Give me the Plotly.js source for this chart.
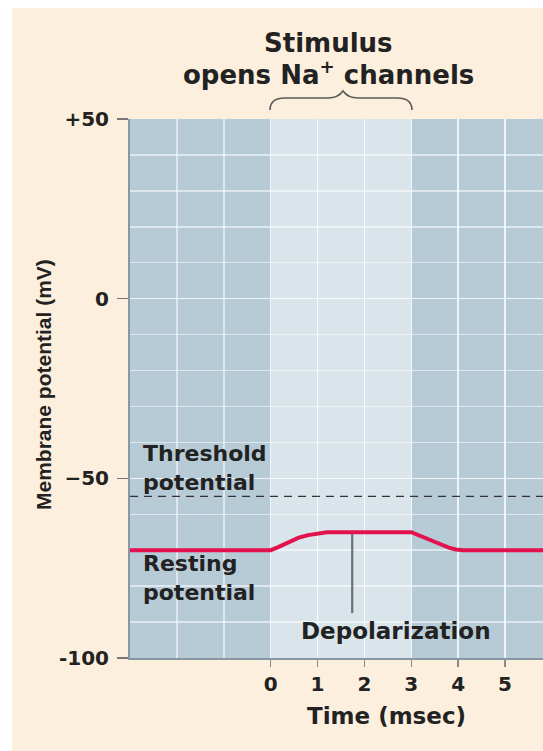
<!DOCTYPE html>
<html>
<head>
<meta charset="utf-8">
<script src="https://cdn.plot.ly/plotly-3.0.1.min.js"></script>
<style>
  html, body { margin: 0; padding: 0; background: #ffffff; overflow: hidden; }
  #chart { position: absolute; left: 12px; top: 8px; width: 531px; height: 743px; }
</style>
</head>
<body>
<div id="chart"></div>
<script>
// ---- data ----
const timeMs = [-3, 0, 0.15, 0.3, 0.45, 0.6, 0.8, 1.0, 1.2, 3.0, 3.3, 3.6, 3.8, 3.95, 4.1, 6.5];
const potentialMV = [-70, -70, -69.2, -68.2, -67.3, -66.5, -65.8, -65.3, -65, -65, -66.5, -68.2, -69.3, -69.8, -70, -70];
const xTickVals = [0, 1, 2, 3, 4, 5];
const xTickText = ['0', '1', '2', '3', '4', '5'];
const yTickVals = [-100, -50, 0, 50];
const yTickText = ['-100', '\u221250', '0', '+50'];
const stimulusStart = 0;
const stimulusEnd = 3;
const thresholdMV = -55;
const depolPointerX = 1.74;
const depolPointerTop = -65.5;
const depolPointerBottom = -87.5;

// ---- layout helpers (page pixels -> paper fraction) ----
const W = 531, H = 743;
const M = {l: 118, r: 0, t: 111, b: 93};
function px(xPage) { return (xPage - 12 - M.l) / (W - M.l - M.r); }
function py(yPage) { return (H - M.b - (yPage - 8)) / (H - M.t - M.b); }

const FONT = 'DejaVu Sans, Liberation Sans, Arial, sans-serif';
const TXT = '#222222';

const trace = {
  x: timeMs, y: potentialMV, type: 'scatter', mode: 'lines',
  line: {color: '#e3124c', width: 4},
  hoverinfo: 'skip', showlegend: false
};

const braceX0 = px(270), braceX1 = px(412), braceTip = px(343);
const bY0 = py(110), bY1 = py(98), bTip = py(91);
const bracePath = `M ${braceX0},${bY0} Q ${braceX0},${bY1} ${px(285)},${bY1} L ${px(328)},${bY1} Q ${px(338)},${bY1} ${braceTip},${bTip} Q ${px(348)},${bY1} ${px(358)},${bY1} L ${px(397)},${bY1} Q ${braceX1},${bY1} ${braceX1},${bY0}`;

const layout = {
  width: W, height: H,
  margin: M,
  paper_bgcolor: '#fdefdd',
  plot_bgcolor: '#b7cbd7',
  showlegend: false,
  xaxis: {
    range: [-3, 5.81], fixedrange: true,
    tickmode: 'array', tickvals: xTickVals, ticktext: xTickText,
    ticks: 'outside', ticklen: 7, tickwidth: 1.5, tickcolor: '#8a8a8a',
    tickfont: {family: FONT, size: 20, color: TXT, weight: 'bold'},
    showgrid: true, gridcolor: 'rgba(255,255,255,0.55)', gridwidth: 1.5,
    minor: {tickmode: 'linear', tick0: 0, dtick: 1, showgrid: true, gridcolor: 'rgba(255,255,255,0.55)', gridwidth: 1.5, ticks: ''},
    showline: true, linecolor: '#8797a3', linewidth: 2,
    zeroline: false
  },
  yaxis: {
    range: [-100, 50], fixedrange: true,
    tickmode: 'array', tickvals: yTickVals, ticktext: yTickText,
    ticks: 'outside', ticklen: 11, tickwidth: 1.5, tickcolor: '#777777',
    ticklabelstandoff: 4,
    tickfont: {family: FONT, size: 20, color: TXT, weight: 'bold'},
    showgrid: true, gridcolor: 'rgba(255,255,255,0.55)', gridwidth: 1.5,
    minor: {tickmode: 'linear', tick0: 0, dtick: 10, showgrid: true, gridcolor: 'rgba(255,255,255,0.55)', gridwidth: 1.5, ticks: ''},
    showline: true, linecolor: '#8797a3', linewidth: 2,
    zeroline: false
  },
  shapes: [
    {type: 'rect', layer: 'below', xref: 'x', yref: 'paper', x0: stimulusStart, x1: stimulusEnd, y0: 0, y1: 1,
     fillcolor: '#d9e4eb', line: {width: 0}},
    {type: 'line', layer: 'above', xref: 'paper', yref: 'y', x0: 0, x1: 1, y0: thresholdMV, y1: thresholdMV,
     line: {color: '#333333', width: 1.2, dash: '8px,6px'}},
    {type: 'line', layer: 'above', xref: 'x', yref: 'y', x0: depolPointerX, x1: depolPointerX, y0: depolPointerTop, y1: depolPointerBottom,
     line: {color: '#707070', width: 2.2}},
    {type: 'path', xref: 'paper', yref: 'paper', path: bracePath, line: {color: '#5a5a5a', width: 1.6}}
  ],
  annotations: [
    {xref: 'paper', yref: 'paper', x: px(328), y: py(43), text: 'Stimulus', showarrow: false,
     xanchor: 'center', yanchor: 'middle', font: {family: FONT, size: 26, color: TXT, weight: 'bold'}},
    {xref: 'paper', yref: 'paper', x: px(328), y: py(73), text: 'opens Na<sup>+</sup> channels', showarrow: false,
     xanchor: 'center', yanchor: 'middle', font: {family: FONT, size: 26, color: TXT, weight: 'bold'}},
    {xref: 'x', yref: 'y', x: -2.77, y: -47.1, text: 'Threshold<br>potential', showarrow: false, align: 'left',
     xanchor: 'left', yanchor: 'middle', font: {family: FONT, size: 22, color: TXT, weight: 'bold'}},
    {xref: 'x', yref: 'y', x: -2.77, y: -77.8, text: 'Resting<br>potential', showarrow: false, align: 'left',
     xanchor: 'left', yanchor: 'middle', font: {family: FONT, size: 22, color: TXT, weight: 'bold'}},
    {xref: 'x', yref: 'y', x: 2.68, y: -92.5, text: 'Depolarization', showarrow: false,
     xanchor: 'center', yanchor: 'middle', font: {family: FONT, size: 23, color: TXT, weight: 'bold'}},
    {xref: 'paper', yref: 'paper', x: px(386), y: py(716), text: 'Time (msec)', showarrow: false,
     xanchor: 'center', yanchor: 'middle', font: {family: FONT, size: 23, color: TXT, weight: 'bold'}},
    {xref: 'paper', yref: 'paper', x: px(43), y: py(385), text: 'Membrane potential (mV)', showarrow: false, textangle: -90,
     xanchor: 'center', yanchor: 'middle', font: {family: 'Liberation Sans, Arial, sans-serif', size: 21, color: TXT, weight: 'bold'}}
  ]
};

Plotly.newPlot('chart', [trace], layout, {displayModeBar: false, staticPlot: true});
</script>
</body>
</html>
